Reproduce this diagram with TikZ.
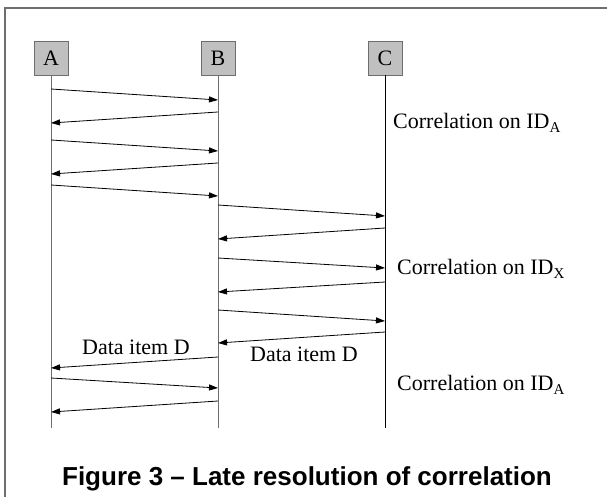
\documentclass[tikz,border=0pt]{standalone}
\usepackage{fontspec}
\setmainfont{Liberation Serif}
\newfontfamily\captionfont{Liberation Sans}
\usepackage{xcolor}
\usepackage{tikz}
\usetikzlibrary{calc,positioning,arrows.meta}
\definecolor{boxgray}{RGB}{192,192,192}
\definecolor{linegray}{RGB}{110,110,110}
\newcommand{\idsub}[1]{\raisebox{-4pt}{\fontsize{15}{15}\selectfont #1}}

\begin{document}
\begin{tikzpicture}[x=1pt,y=-1pt,
		actor/.style={draw=linegray,fill=boxgray,minimum size=34pt,inner sep=0pt,font=\fontsize{22}{22}\selectfont},
		msg/.style={-{Triangle[length=9pt,width=6pt]},line width=0.8pt},
		lbl/.style={anchor=base west,inner sep=0pt,font=\fontsize{22}{22}\selectfont}]
			\useasboundingbox (0,0) rectangle (607,497);
			\draw[linegray,line width=2pt] (5,497) -- (5,8) -- (607,8);
			\node[actor] (A) at (51,58) {A};
			\node[actor] (B) at (218,58) {B};
			\node[actor] (C) at (385,58) {C};
			\draw[linegray] (A.south) -- (A.south |- 0,428);
			\draw[linegray] (B.south) -- (B.south |- 0,428);
			\draw (C.south) -- (C.south |- 0,428);
			\foreach \s/\t/\ya/\yb in {A/B/89/100, B/A/112/123, A/B/140/151, B/A/163/174, A/B/185/196,
				B/C/205/216, C/B/228/239, B/C/258/268, C/B/282/292, B/C/310/321, C/B/332/343,
				B/A/357/368, A/B/378/388, B/A/401/412} {
				\draw[msg] (\s |- 0,\ya) -- (\t |- 0,\yb);
			};
			\node[lbl] (corr1) at (393,129) {Correlation on ID\idsub{A}};
			\node[lbl] (corr2) at (397,274) {Correlation on ID\idsub{X}};
			\node[lbl] (corr3) at (397,390) {Correlation on ID\idsub{A}};
			\node[lbl] (data1) at (82,354) {Data item D};
			\node[lbl] (data2) at (250,361) {Data item D};
			\node[anchor=base,inner sep=0pt,font=\captionfont\bfseries\fontsize{26}{26}\selectfont] (cap) at (307,485) {Figure 3 – Late resolution of correlation};
		\end{tikzpicture}
\end{document}
